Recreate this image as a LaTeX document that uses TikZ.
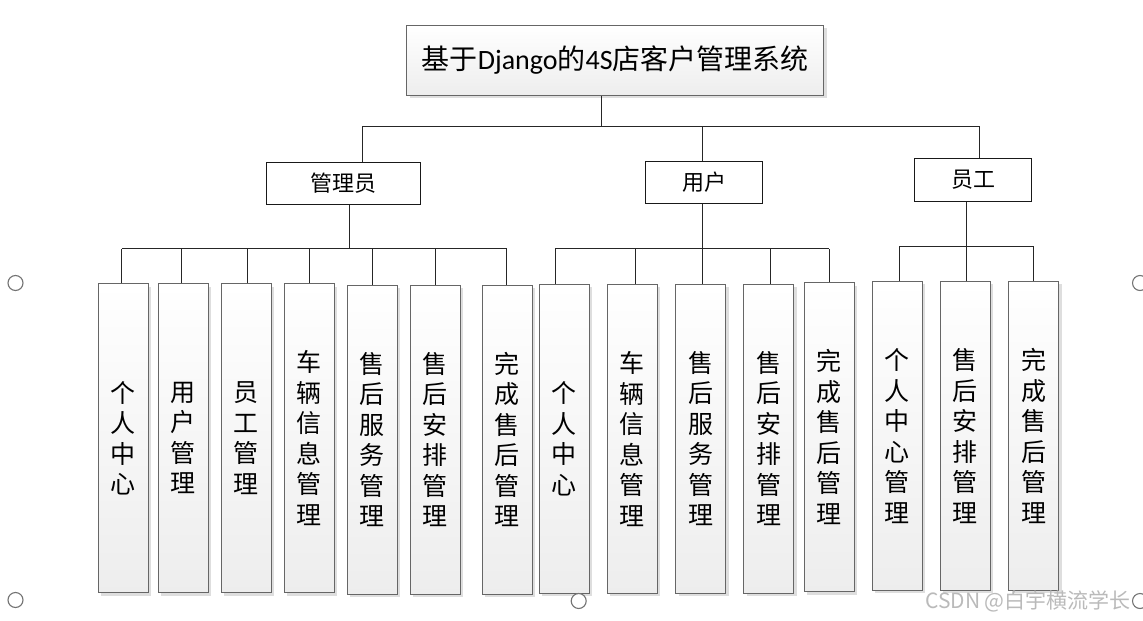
\documentclass[tikz,border=0pt]{standalone}
\usepackage{fontspec}
\setmainfont{Carlito}
\newfontfamily\cjk{Noto Sans CJK SC}
\usetikzlibrary{shadows}

\begin{document}
\begin{tikzpicture}[x=1pt,y=-1pt,line join=miter,
  box/.style={draw=black!60,line width=0.8pt,top color=white,bottom color=black!7,
    drop shadow={shadow xshift=3pt,shadow yshift=-3pt,fill=black!13,opacity=1}},
  role/.style={draw=black!90,line width=0.75pt,fill=white,inner sep=0pt,
    font=\cjk\fontsize{22}{22}\selectfont},
  leaf/.style={box,anchor=north,minimum width=50pt,minimum height=309pt,inner sep=0pt,
    align=center,font=\cjk\fontsize{25}{30.5}\selectfont},
  link/.style={line width=0.75pt,draw=black!85},
  handle/.style={draw=black!55,line width=1.1pt,fill=white}]
  \useasboundingbox (0,0) rectangle (1143,621);
  % top and roles
  \node[box,minimum width=417pt,minimum height=70pt,inner sep=0pt,
    font=\fontsize{28}{28}\selectfont] (sys) at (615.3,60.2)
    {{\cjk 基于}Django{\cjk 的}4S{\cjk 店客户管理系统}};
  \node[role,minimum width=154pt,minimum height=42pt] (adm) at (343.5,183.3) {管理员};
  \node[role,minimum width=116.6pt,minimum height=41.6pt] (usr) at (704,182.5) {用户};
  \node[role,minimum width=116.7pt,minimum height=42.3pt] (stf) at (973,180) {员工};
  \coordinate (hub) at (601.3,126.5);
  \draw[link] (sys.south -| hub) -- (hub);
  \draw[link] ([xshift=19.2pt]adm.north) |- (hub) -| ([xshift=6.3pt]stf.north);
  \draw[link] ([xshift=-1.7pt]usr.north) -- ([xshift=-1.7pt]usr.north |- hub);
  % 管理员
  \coordinate (admhub) at (349.7,248.5);
  \draw[link] (adm.south -| admhub) -- (admhub);
  \foreach \n/\x/\t/\s/\txt in {a1/123.2/283.3/-1.5/{个\\人\\中\\心},
      a2/183/283.3/-1.7/{用\\户\\管\\理}, a3/246.3/283.3/1.4/{员\\工\\管\\理},
      a4/309.3/283.3/0/{车\\辆\\信\\息\\管\\理}, a5/372.3/284.7/0/{售\\后\\服\\务\\管\\理},
      a6/435.3/284.7/0/{售\\后\\安\\排\\管\\理}, a7/507.2/284.7/-0.5/{完\\成\\售\\后\\管\\理}}{
    \node[leaf] (\n) at (\x,\t) {\txt};
    \draw[link] ([xshift=\s pt]\n.north) -- ([xshift=\s pt]\n.north |- admhub);
  }
  \draw[link] ([xshift=-1.5pt]a1.north |- admhub) -- ([xshift=-0.5pt]a7.north |- admhub);
  % 用户
  \coordinate (usrhub) at (702.3,248.7);
  \draw[link] (usr.south -| usrhub) -- (usrhub);
  \foreach \n/\x/\t/\s/\txt in {u1/564.2/284/-8.9/{个\\人\\中\\心},
      u2/632.3/284/3.4/{车\\辆\\信\\息\\管\\理}, u3/700.5/283.6/1.8/{售\\后\\服\\务\\管\\理},
      u4/768.7/283.6/1.6/{售\\后\\安\\排\\管\\理}, u5/829.2/282.3/0/{完\\成\\售\\后\\管\\理}}{
    \node[leaf] (\n) at (\x,\t) {\txt};
    \draw[link] ([xshift=\s pt]\n.north) -- ([xshift=\s pt]\n.north |- usrhub);
  }
  \draw[link] ([xshift=-8.9pt]u1.north |- usrhub) -- (u5.north |- usrhub);
  % 员工
  \coordinate (stfhub) at (966.7,246);
  \draw[link] (stf.south -| stfhub) -- (stfhub);
  \foreach \n/\x/\t/\s/\txt in {s1/897.3/281/1.7/{个\\人\\中\\心\\管\\理},
      s2/965.3/281/1.4/{售\\后\\安\\排\\管\\理}, s3/1033.7/281/0/{完\\成\\售\\后\\管\\理}}{
    \node[leaf] (\n) at (\x,\t) {\txt};
    \draw[link] ([xshift=\s pt]\n.north) -- ([xshift=\s pt]\n.north |- stfhub);
  }
  \draw[link] ([xshift=1.7pt]s1.north |- stfhub) -- (s3.north |- stfhub);
  % watermark and handles
  \node[anchor=west,inner sep=0pt,text=black!27,font=\cjk\fontsize{21}{21}\selectfont]
    (mark) at (925,601) {CSDN @白宇横流学长};
  \foreach \p in {(15.5,283),(15.5,600),(578.7,601),(1140,283),(1140,601)}
    \draw[handle] \p circle[radius=7.5pt];
\end{tikzpicture}
\end{document}
